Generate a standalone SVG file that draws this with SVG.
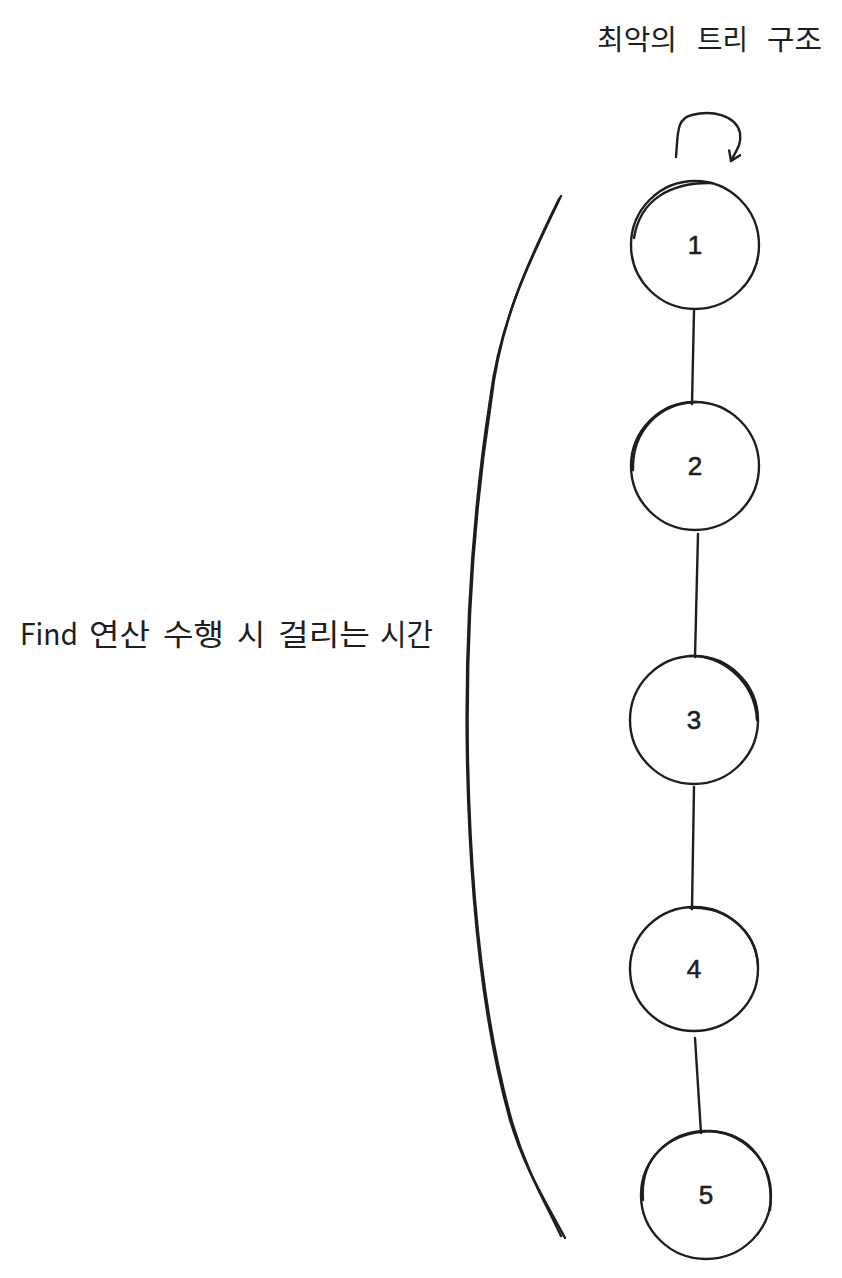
<svg xmlns="http://www.w3.org/2000/svg" width="842" height="1278" viewBox="0 0 842 1278">
<style>
.s{fill:none;stroke:#1e1e1e;stroke-width:2.4;stroke-linecap:round;stroke-linejoin:round}
.t{font-family:"Noto Sans CJK KR","Noto Sans",sans-serif;font-size:28px;fill:#1e1e1e}
.l{font-family:"Noto Sans CJK KR","Noto Sans",sans-serif;font-size:30px;fill:#1e1e1e}
.n{font-family:"Liberation Sans","Noto Sans",sans-serif;font-size:26px;fill:#1e1e1e;stroke:#1e1e1e;stroke-width:0.6;text-anchor:middle;dominant-baseline:central}
</style>
<defs>
<marker id="ah" markerWidth="14" markerHeight="14" refX="10" refY="7" orient="auto" markerUnits="userSpaceOnUse">
<path d="M1,1 L10,7 L1,13" class="s"/>
</marker>
</defs>
<rect width="842" height="1278" fill="#ffffff"/>
<g id="title">
<text class="t" x="597" y="50" textLength="80" lengthAdjust="spacingAndGlyphs">최악의</text>
<text class="t" x="697" y="50" textLength="51" lengthAdjust="spacingAndGlyphs">트리</text>
<text class="t" x="767" y="50" textLength="55" lengthAdjust="spacingAndGlyphs">구조</text>
</g>
<g id="label">
<text class="l" x="20" y="645" font-family="'Liberation Sans',sans-serif" textLength="58" lengthAdjust="spacingAndGlyphs">Find</text>
<text class="l" x="89" y="645" textLength="61" lengthAdjust="spacingAndGlyphs">연산</text>
<text class="l" x="163" y="645" textLength="61" lengthAdjust="spacingAndGlyphs">수행</text>
<text class="l" x="237" y="645" textLength="28" lengthAdjust="spacingAndGlyphs">시</text>
<text class="l" x="278" y="645" textLength="92" lengthAdjust="spacingAndGlyphs">걸리는</text>
<text class="l" x="380" y="645" textLength="53" lengthAdjust="spacingAndGlyphs">시간</text>
</g>
<g id="connectors">
<path class="s" d="M694,311 L692,404"/>
<path class="s" d="M698,534 L695,657"/>
<path class="s" d="M694,787 L692,909"/>
<path class="s" d="M695,1038 L701,1133"/>
<path class="s" d="M676,157 C678,135 676,118 692,115 C712,110 736,115 740,133 C742,145 735,152 731,161" marker-end="url(#ah)"/>
</g>
<g id="brace">
<path class="s" d="M561,196 C530,260 500,320 490,400 C470,530 465,650 467,760 C470,900 482,1020 510,1120 C525,1170 545,1200 565,1238"/>
<path class="s" d="M559,199 C528,262 500,322 491,402 C471,532 466,652 468,762 C471,902 484,1022 512,1122 C527,1172 545,1202 561,1236" stroke-width="1.2"/>
</g>
<g id="node1">
<ellipse class="s" cx="695" cy="245" rx="64" ry="64"/>
<path class="s" d="M634,238 C640,200 670,182 712,183" stroke-width="1.2"/>
<text class="n" x="695" y="245">1</text>
</g>
<g id="node2">
<ellipse class="s" cx="695" cy="466" rx="64" ry="64"/>
<path class="s" d="M633,470 C632,430 660,403 696,402" stroke-width="1.2"/>
<text class="n" x="695" y="466">2</text>
</g>
<g id="node3">
<ellipse class="s" cx="694" cy="720" rx="64" ry="64"/>
<path class="s" d="M690,656 C720,654 755,680 757,720" stroke-width="1.2"/>
<text class="n" x="694" y="720">3</text>
</g>
<g id="node4">
<ellipse class="s" cx="694" cy="969" rx="64" ry="62"/>
<path class="s" d="M690,908 C725,906 756,930 758,965" stroke-width="1.2"/>
<text class="n" x="694" y="969">4</text>
</g>
<g id="node5">
<ellipse class="s" cx="706" cy="1195" rx="65" ry="64"/>
<path class="s" d="M643,1200 C640,1160 665,1133 710,1131 C750,1133 775,1165 770,1210" stroke-width="1.2"/>
<text class="n" x="706" y="1195">5</text>
</g>
</svg>
